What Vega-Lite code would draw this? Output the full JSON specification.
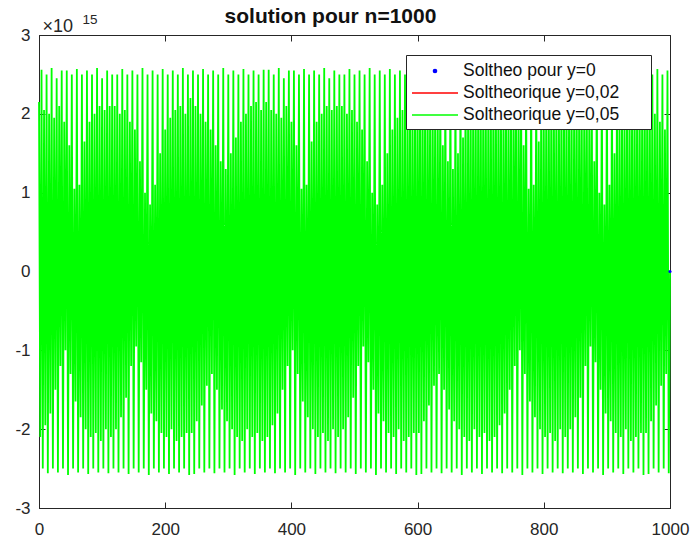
{
  "$schema": "https://vega.github.io/schema/vega-lite/v6.json",
  "width": 631,
  "height": 473,
  "autosize": {"type": "none"},
  "padding": {"left": 39, "top": 35, "right": 21, "bottom": 33},
  "background": "white",
  "config": {
    "font": "Liberation Sans",
    "view": {"stroke": "#262626", "strokeWidth": 1},
    "axis": {
      "domain": true, "domainColor": "#262626", "domainWidth": 1,
      "ticks": true, "tickColor": "#262626", "tickSize": -6, "tickWidth": 1,
      "grid": false, "labelFont": "Liberation Sans", "labelFontSize": 17,
      "labelColor": "#262626", "zindex": 1
    }
  },
  "datasets": {
    "green": [
      {"x":0,"y":2.15},{"x":2,"y":-2.1},{"x":4,"y":2.56},{"x":6,"y":-2.5},{"x":8,"y":2.05},{"x":10,"y":-1.95},{"x":12,"y":2.5},{"x":14,"y":-2.56},{"x":16,"y":2.0},{"x":18,"y":-1.8},{"x":20,"y":2.58},{"x":22,"y":-2.5},{"x":24,"y":1.95},{"x":26,"y":-1.5},{"x":28,"y":2.45},{"x":30,"y":-2.55},{"x":32,"y":2.1},{"x":34,"y":-1.2},{"x":36,"y":2.55},{"x":38,"y":-2.5},{"x":40,"y":1.9},{"x":42,"y":-1.0},{"x":44,"y":2.55},{"x":46,"y":-2.58},{"x":48,"y":1.6},{"x":50,"y":-1.3},{"x":52,"y":2.5},{"x":54,"y":-2.5},{"x":56,"y":1.05},{"x":58,"y":-1.65},{"x":60,"y":2.57},{"x":62,"y":-2.55},{"x":64,"y":1.1},{"x":66,"y":-1.85},{"x":68,"y":2.5},{"x":70,"y":-2.5},{"x":72,"y":1.65},{"x":74,"y":-2.0},{"x":76,"y":2.55},{"x":78,"y":-2.57},{"x":80,"y":1.9},{"x":82,"y":-2.1},{"x":84,"y":2.5},{"x":86,"y":-2.5},{"x":88,"y":2.0},{"x":90,"y":-2.05},{"x":92,"y":2.58},{"x":94,"y":-2.55},{"x":96,"y":2.1},{"x":98,"y":-2.15},{"x":100,"y":2.45},{"x":102,"y":-2.5},{"x":104,"y":2.05},{"x":106,"y":-2.0},{"x":108,"y":2.55},{"x":110,"y":-2.56},{"x":112,"y":2.1},{"x":114,"y":-2.1},{"x":116,"y":2.5},{"x":118,"y":-2.5},
      {"x":120,"y":2.1},{"x":122,"y":-2.0},{"x":124,"y":2.5},{"x":126,"y":-2.55},{"x":128,"y":2.0},{"x":130,"y":-1.85},{"x":132,"y":2.57},{"x":134,"y":-2.5},{"x":136,"y":2.05},{"x":138,"y":-1.6},{"x":140,"y":2.5},{"x":142,"y":-2.57},{"x":144,"y":1.9},{"x":146,"y":-1.2},{"x":148,"y":2.55},{"x":150,"y":-2.5},{"x":152,"y":1.8},{"x":154,"y":-0.95},{"x":156,"y":2.5},{"x":158,"y":-2.55},{"x":160,"y":1.4},{"x":162,"y":-1.15},{"x":164,"y":2.58},{"x":166,"y":-2.5},{"x":168,"y":1.0},{"x":170,"y":-1.5},{"x":172,"y":2.5},{"x":174,"y":-2.58},{"x":176,"y":0.85},{"x":178,"y":-1.8},{"x":180,"y":2.55},{"x":182,"y":-2.5},{"x":184,"y":1.1},{"x":186,"y":-1.9},{"x":188,"y":2.5},{"x":190,"y":-2.55},{"x":192,"y":1.5},{"x":194,"y":-2.05},{"x":196,"y":2.57},{"x":198,"y":-2.5},{"x":200,"y":1.8},{"x":202,"y":-2.1},{"x":204,"y":2.5},{"x":206,"y":-2.57},{"x":208,"y":1.95},{"x":210,"y":-2.0},{"x":212,"y":2.55},{"x":214,"y":-2.5},{"x":216,"y":2.05},{"x":218,"y":-2.15},{"x":220,"y":2.5},{"x":222,"y":-2.55},{"x":224,"y":2.1},{"x":226,"y":-2.1},{"x":228,"y":2.58},{"x":230,"y":-2.5},{"x":232,"y":2.0},{"x":234,"y":-2.05},{"x":236,"y":2.5},{"x":238,"y":-2.58},
      {"x":240,"y":2.2},{"x":242,"y":-2.05},{"x":244,"y":2.55},{"x":246,"y":-2.57},{"x":248,"y":2.1},{"x":250,"y":-1.9},{"x":252,"y":2.5},{"x":254,"y":-2.5},{"x":256,"y":2.0},{"x":258,"y":-1.7},{"x":260,"y":2.57},{"x":262,"y":-2.55},{"x":264,"y":1.9},{"x":266,"y":-1.45},{"x":268,"y":2.5},{"x":270,"y":-2.5},{"x":272,"y":1.8},{"x":274,"y":-1.3},{"x":276,"y":2.55},{"x":278,"y":-2.56},{"x":280,"y":1.6},{"x":282,"y":-1.5},{"x":284,"y":2.5},{"x":286,"y":-2.5},{"x":288,"y":1.4},{"x":290,"y":-1.75},{"x":292,"y":2.58},{"x":294,"y":-2.55},{"x":296,"y":1.3},{"x":298,"y":-1.9},{"x":300,"y":2.5},{"x":302,"y":-2.5},{"x":304,"y":1.5},{"x":306,"y":-2.0},{"x":308,"y":2.55},{"x":310,"y":-2.58},{"x":312,"y":1.7},{"x":314,"y":-2.1},{"x":316,"y":2.5},{"x":318,"y":-2.5},{"x":320,"y":1.9},{"x":322,"y":-2.15},{"x":324,"y":2.57},{"x":326,"y":-2.55},{"x":328,"y":2.0},{"x":330,"y":-2.0},{"x":332,"y":2.5},{"x":334,"y":-2.5},{"x":336,"y":2.1},{"x":338,"y":-2.1},{"x":340,"y":2.55},{"x":342,"y":-2.57},{"x":344,"y":2.15},{"x":346,"y":-2.05},{"x":348,"y":2.5},{"x":350,"y":-2.5},{"x":352,"y":2.05},{"x":354,"y":-2.15},{"x":356,"y":2.56},{"x":358,"y":-2.55},
      {"x":360,"y":2.15},{"x":362,"y":-2.1},{"x":364,"y":2.56},{"x":366,"y":-2.5},{"x":368,"y":2.05},{"x":370,"y":-1.95},{"x":372,"y":2.5},{"x":374,"y":-2.56},{"x":376,"y":2.0},{"x":378,"y":-1.8},{"x":380,"y":2.58},{"x":382,"y":-2.5},{"x":384,"y":1.95},{"x":386,"y":-1.5},{"x":388,"y":2.45},{"x":390,"y":-2.55},{"x":392,"y":2.1},{"x":394,"y":-1.2},{"x":396,"y":2.55},{"x":398,"y":-2.5},{"x":400,"y":1.9},{"x":402,"y":-1.0},{"x":404,"y":2.55},{"x":406,"y":-2.58},{"x":408,"y":1.6},{"x":410,"y":-1.3},{"x":412,"y":2.5},{"x":414,"y":-2.5},{"x":416,"y":1.05},{"x":418,"y":-1.65},{"x":420,"y":2.57},{"x":422,"y":-2.55},{"x":424,"y":1.1},{"x":426,"y":-1.85},{"x":428,"y":2.5},{"x":430,"y":-2.5},{"x":432,"y":1.65},{"x":434,"y":-2.0},{"x":436,"y":2.55},{"x":438,"y":-2.57},{"x":440,"y":1.9},{"x":442,"y":-2.1},{"x":444,"y":2.5},{"x":446,"y":-2.5},{"x":448,"y":2.0},{"x":450,"y":-2.05},{"x":452,"y":2.58},{"x":454,"y":-2.55},{"x":456,"y":2.1},{"x":458,"y":-2.15},{"x":460,"y":2.45},{"x":462,"y":-2.5},{"x":464,"y":2.05},{"x":466,"y":-2.0},{"x":468,"y":2.55},{"x":470,"y":-2.56},{"x":472,"y":2.1},{"x":474,"y":-2.1},{"x":476,"y":2.5},{"x":478,"y":-2.5},
      {"x":480,"y":2.1},{"x":482,"y":-2.0},{"x":484,"y":2.5},{"x":486,"y":-2.55},{"x":488,"y":2.0},{"x":490,"y":-1.85},{"x":492,"y":2.57},{"x":494,"y":-2.5},{"x":496,"y":2.05},{"x":498,"y":-1.6},{"x":500,"y":2.5},{"x":502,"y":-2.57},{"x":504,"y":1.9},{"x":506,"y":-1.2},{"x":508,"y":2.55},{"x":510,"y":-2.5},{"x":512,"y":1.8},{"x":514,"y":-0.95},{"x":516,"y":2.5},{"x":518,"y":-2.55},{"x":520,"y":1.4},{"x":522,"y":-1.15},{"x":524,"y":2.58},{"x":526,"y":-2.5},{"x":528,"y":1.0},{"x":530,"y":-1.5},{"x":532,"y":2.5},{"x":534,"y":-2.58},{"x":536,"y":0.85},{"x":538,"y":-1.8},{"x":540,"y":2.55},{"x":542,"y":-2.5},{"x":544,"y":1.1},{"x":546,"y":-1.9},{"x":548,"y":2.5},{"x":550,"y":-2.55},{"x":552,"y":1.5},{"x":554,"y":-2.05},{"x":556,"y":2.57},{"x":558,"y":-2.5},{"x":560,"y":1.8},{"x":562,"y":-2.1},{"x":564,"y":2.5},{"x":566,"y":-2.57},{"x":568,"y":1.95},{"x":570,"y":-2.0},{"x":572,"y":2.55},{"x":574,"y":-2.5},{"x":576,"y":2.05},{"x":578,"y":-2.15},{"x":580,"y":2.5},{"x":582,"y":-2.55},{"x":584,"y":2.1},{"x":586,"y":-2.1},{"x":588,"y":2.58},{"x":590,"y":-2.5},{"x":592,"y":2.0},{"x":594,"y":-2.05},{"x":596,"y":2.5},{"x":598,"y":-2.58},
      {"x":600,"y":2.2},{"x":602,"y":-2.05},{"x":604,"y":2.55},{"x":606,"y":-2.57},{"x":608,"y":2.1},{"x":610,"y":-1.9},{"x":612,"y":2.5},{"x":614,"y":-2.5},{"x":616,"y":2.0},{"x":618,"y":-1.7},{"x":620,"y":2.57},{"x":622,"y":-2.55},{"x":624,"y":1.9},{"x":626,"y":-1.45},{"x":628,"y":2.5},{"x":630,"y":-2.5},{"x":632,"y":1.8},{"x":634,"y":-1.3},{"x":636,"y":2.55},{"x":638,"y":-2.56},{"x":640,"y":1.6},{"x":642,"y":-1.5},{"x":644,"y":2.5},{"x":646,"y":-2.5},{"x":648,"y":1.4},{"x":650,"y":-1.75},{"x":652,"y":2.58},{"x":654,"y":-2.55},{"x":656,"y":1.3},{"x":658,"y":-1.9},{"x":660,"y":2.5},{"x":662,"y":-2.5},{"x":664,"y":1.5},{"x":666,"y":-2.0},{"x":668,"y":2.55},{"x":670,"y":-2.58},{"x":672,"y":1.7},{"x":674,"y":-2.1},{"x":676,"y":2.5},{"x":678,"y":-2.5},{"x":680,"y":1.9},{"x":682,"y":-2.15},{"x":684,"y":2.57},{"x":686,"y":-2.55},{"x":688,"y":2.0},{"x":690,"y":-2.0},{"x":692,"y":2.5},{"x":694,"y":-2.5},{"x":696,"y":2.1},{"x":698,"y":-2.1},{"x":700,"y":2.55},{"x":702,"y":-2.57},{"x":704,"y":2.15},{"x":706,"y":-2.05},{"x":708,"y":2.5},{"x":710,"y":-2.5},{"x":712,"y":2.05},{"x":714,"y":-2.15},{"x":716,"y":2.56},{"x":718,"y":-2.55},
      {"x":720,"y":2.15},{"x":722,"y":-2.1},{"x":724,"y":2.56},{"x":726,"y":-2.5},{"x":728,"y":2.05},{"x":730,"y":-1.95},{"x":732,"y":2.5},{"x":734,"y":-2.56},{"x":736,"y":2.0},{"x":738,"y":-1.8},{"x":740,"y":2.58},{"x":742,"y":-2.5},{"x":744,"y":1.95},{"x":746,"y":-1.5},{"x":748,"y":2.45},{"x":750,"y":-2.55},{"x":752,"y":2.1},{"x":754,"y":-1.2},{"x":756,"y":2.55},{"x":758,"y":-2.5},{"x":760,"y":1.9},{"x":762,"y":-1.0},{"x":764,"y":2.55},{"x":766,"y":-2.58},{"x":768,"y":1.6},{"x":770,"y":-1.3},{"x":772,"y":2.5},{"x":774,"y":-2.5},{"x":776,"y":1.05},{"x":778,"y":-1.65},{"x":780,"y":2.57},{"x":782,"y":-2.55},{"x":784,"y":1.1},{"x":786,"y":-1.85},{"x":788,"y":2.5},{"x":790,"y":-2.5},{"x":792,"y":1.65},{"x":794,"y":-2.0},{"x":796,"y":2.55},{"x":798,"y":-2.57},{"x":800,"y":1.9},{"x":802,"y":-2.1},{"x":804,"y":2.5},{"x":806,"y":-2.5},{"x":808,"y":2.0},{"x":810,"y":-2.05},{"x":812,"y":2.58},{"x":814,"y":-2.55},{"x":816,"y":2.1},{"x":818,"y":-2.15},{"x":820,"y":2.45},{"x":822,"y":-2.5},{"x":824,"y":2.05},{"x":826,"y":-2.0},{"x":828,"y":2.55},{"x":830,"y":-2.56},{"x":832,"y":2.1},{"x":834,"y":-2.1},{"x":836,"y":2.5},{"x":838,"y":-2.5},
      {"x":840,"y":2.1},{"x":842,"y":-2.0},{"x":844,"y":2.5},{"x":846,"y":-2.55},{"x":848,"y":2.0},{"x":850,"y":-1.85},{"x":852,"y":2.57},{"x":854,"y":-2.5},{"x":856,"y":2.05},{"x":858,"y":-1.6},{"x":860,"y":2.5},{"x":862,"y":-2.57},{"x":864,"y":1.9},{"x":866,"y":-1.2},{"x":868,"y":2.55},{"x":870,"y":-2.5},{"x":872,"y":1.8},{"x":874,"y":-0.95},{"x":876,"y":2.5},{"x":878,"y":-2.55},{"x":880,"y":1.4},{"x":882,"y":-1.15},{"x":884,"y":2.58},{"x":886,"y":-2.5},{"x":888,"y":1.0},{"x":890,"y":-1.5},{"x":892,"y":2.5},{"x":894,"y":-2.58},{"x":896,"y":0.85},{"x":898,"y":-1.8},{"x":900,"y":2.55},{"x":902,"y":-2.5},{"x":904,"y":1.1},{"x":906,"y":-1.9},{"x":908,"y":2.5},{"x":910,"y":-2.55},{"x":912,"y":1.5},{"x":914,"y":-2.05},{"x":916,"y":2.57},{"x":918,"y":-2.5},{"x":920,"y":1.8},{"x":922,"y":-2.1},{"x":924,"y":2.5},{"x":926,"y":-2.57},{"x":928,"y":1.95},{"x":930,"y":-2.0},{"x":932,"y":2.55},{"x":934,"y":-2.5},{"x":936,"y":2.05},{"x":938,"y":-2.15},{"x":940,"y":2.5},{"x":942,"y":-2.55},{"x":944,"y":2.1},{"x":946,"y":-2.1},{"x":948,"y":2.58},{"x":950,"y":-2.5},{"x":952,"y":2.0},{"x":954,"y":-2.05},{"x":956,"y":2.5},{"x":958,"y":-2.58},
      {"x":960,"y":2.2},{"x":962,"y":-2.05},{"x":964,"y":2.55},{"x":966,"y":-2.57},{"x":968,"y":2.1},{"x":970,"y":-1.9},{"x":972,"y":2.5},{"x":974,"y":-2.5},{"x":976,"y":2.0},{"x":978,"y":-1.7},{"x":980,"y":2.57},{"x":982,"y":-2.55},{"x":984,"y":1.9},{"x":986,"y":-1.45},{"x":988,"y":2.5},{"x":990,"y":-2.5},{"x":992,"y":1.8},{"x":994,"y":-1.3},{"x":996,"y":2.55},{"x":998,"y":-2.56},{"x":1000,"y":0}
    ],
    "red": [{"x":992,"y":0},{"x":1000,"y":0}],
    "blue": [{"x":1000,"y":0}]
  },
  "resolve": {"axis": {"x": "independent", "y": "independent"}},
  "layer": [
    {
      "data": {"name": "red"},
      "mark": {"type": "line", "color": "red", "strokeWidth": 1},
      "encoding": {
        "x": {"field": "x", "type": "quantitative", "scale": {"domain": [0, 1000], "nice": false},
              "axis": {"orient": "top", "labels": false, "domain": false, "values": [0, 200, 400, 600, 800, 1000],
                       "title": "solution pour n=1000", "titleFontSize": 21, "titleFontWeight": "bold", "titleFont": "Liberation Sans",
                       "titleColor": "#111111", "titleX": 291, "titleY": -9, "titleAlign": "center", "titleBaseline": "bottom"}},
        "y": {"field": "y", "type": "quantitative", "scale": {"domain": [-3, 3], "nice": false},
              "axis": {"orient": "right", "labels": false, "domain": false, "values": [-3, -2, -1, 0, 1, 2, 3],
                       "title": "15", "titleAngle": 0, "titleX": -588, "titleY": -12, "titleAlign": "left",
                       "titleBaseline": "alphabetic", "titleFontWeight": "normal", "titleFontSize": 13.5,
                       "titleColor": "#262626", "titleFont": "Liberation Sans"}},
        "color": {"datum": "Soltheorique y=0,02", "type": "nominal"}
      }
    },
    {
      "data": {"name": "green"},
      "mark": {"type": "line", "color": "#00ff00", "strokeWidth": 1.8},
      "encoding": {
        "x": {"field": "x", "type": "quantitative", "scale": {"domain": [0, 1000], "nice": false},
              "axis": {"orient": "bottom", "title": null, "values": [0, 200, 400, 600, 800, 1000], "format": "d", "labelPadding": 19, "labelFlush": false}},
        "y": {"field": "y", "type": "quantitative", "scale": {"domain": [-3, 3], "nice": false},
              "axis": {"orient": "left", "values": [-3, -2, -1, 0, 1, 2, 3], "labelPadding": 15,
                       "labelExpr": "replace(datum.label, '\u2212', '-')",
                       "title": "×10", "titleAngle": 0, "titleX": 3, "titleY": -4, "titleAlign": "left",
                       "titleBaseline": "alphabetic", "titleFontWeight": "normal", "titleFontSize": 18, "titleColor": "#262626", "titleFont": "Liberation Sans"}},
        "color": {
          "datum": "Soltheorique y=0,05", "type": "nominal",
          "scale": {"domain": ["Soltheo pour y=0", "Soltheorique y=0,02", "Soltheorique y=0,05"], "range": ["#0000ff", "#ff0000", "#00ff00"]},
          "legend": {
            "title": null, "orient": "none", "legendX": 367, "legendY": 20, "direction": "vertical",
            "strokeColor": "#262626", "fillColor": "white", "padding": 5,
            "symbolType": "stroke", "symbolSize": 400, "symbolStrokeWidth": 1.5,
            "labelFontSize": 17.5, "labelFont": "Liberation Sans", "labelColor": "#111111", "labelOffset": 30,
            "rowPadding": 2, "labelLimit": 400,
            "encode": {
              "symbols": {"update": {
                "shape": {"signal": "datum.value === 'Soltheo pour y=0' ? 'circle' : 'M-2.3,0L2.3,0'"},
                "size": {"signal": "datum.value === 'Soltheo pour y=0' ? 10 : 400"},
                "x": {"value": 24},
                "fill": {"signal": "datum.value === 'Soltheo pour y=0' ? '#0000ff' : 'transparent'"}
              }},
              "labels": {"update": {
                "text": {"signal": "datum.label + '\u2800\u2800'"}
              }}
            }
          }
        }
      }
    },
    {
      "data": {"name": "blue"},
      "mark": {"type": "point", "filled": true, "size": 10, "opacity": 1},
      "encoding": {
        "x": {"field": "x", "type": "quantitative", "scale": {"domain": [0, 1000], "nice": false}, "axis": null},
        "y": {"field": "y", "type": "quantitative", "scale": {"domain": [-3, 3], "nice": false}, "axis": null},
        "color": {"datum": "Soltheo pour y=0", "type": "nominal"}
      }
    }
  ]
}
